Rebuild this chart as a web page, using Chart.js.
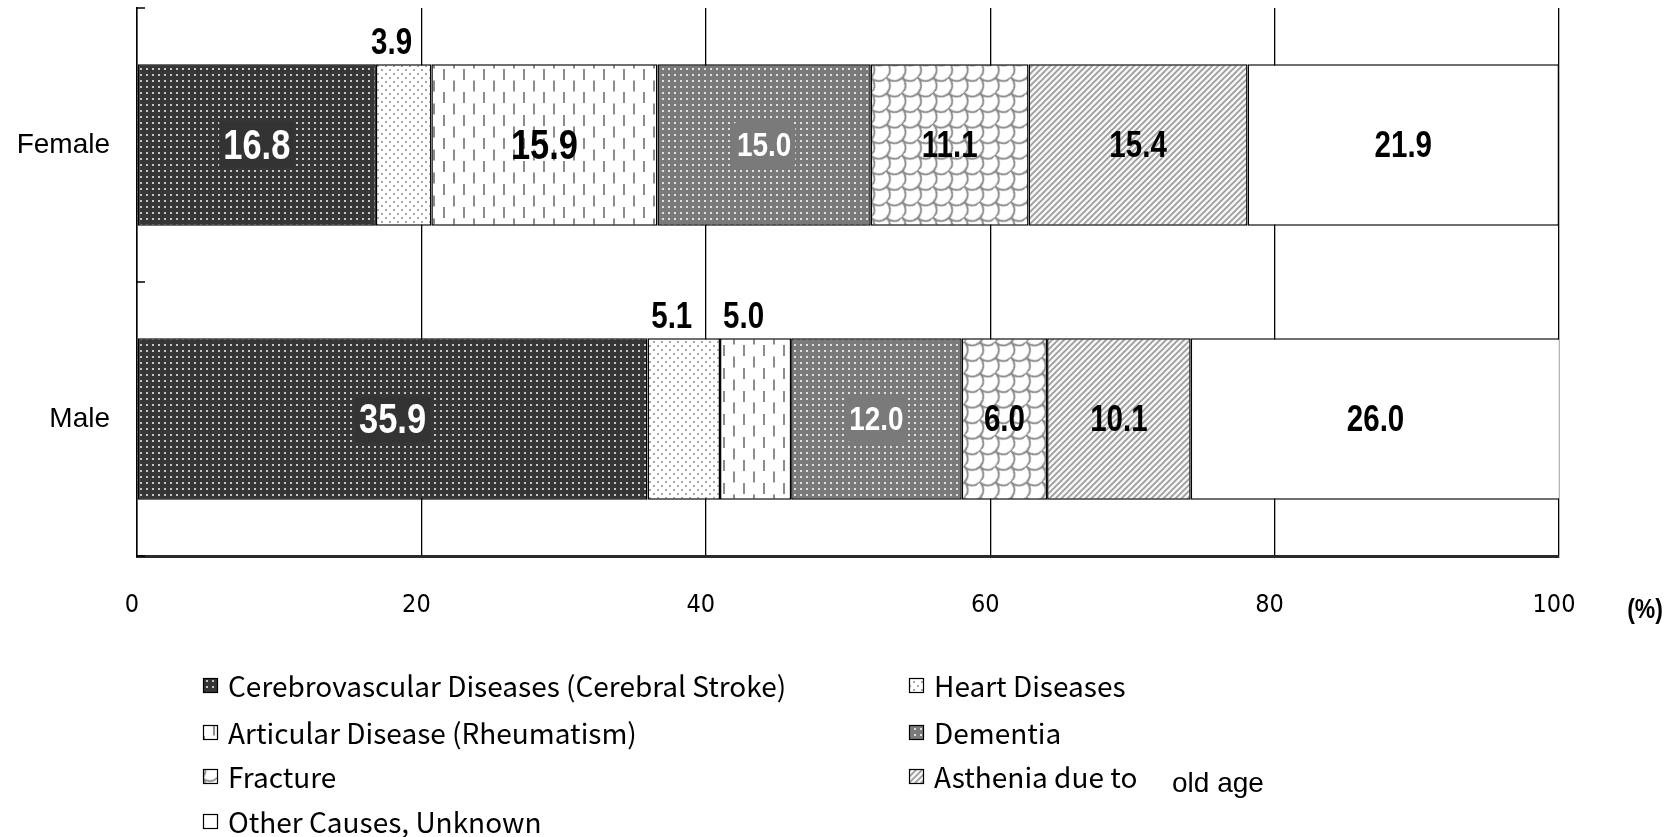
<!DOCTYPE html>
<html><head><meta charset="utf-8">
<script src="https://cdn.jsdelivr.net/npm/chart.js@4.4.1/dist/chart.umd.min.js"></script>
<style>html,body{margin:0;padding:0;background:#fff;}#wrap{width:1677px;height:837px;position:relative;}</style>
</head><body><div id="wrap"><canvas id="c" width="1677" height="837"></canvas></div>
<script>
// ---- data ----
const categories = ['Female', 'Male'];
const causeNames = ['Cerebrovascular Diseases (Cerebral Stroke)', 'Heart Diseases', 'Articular Disease (Rheumatism)', 'Dementia', 'Fracture', 'Asthenia due to old age', 'Other Causes, Unknown'];
const cerebrovascular = [16.8, 35.9];
const heart = [3.9, 5.1];
const articular = [15.9, 5.0];
const dementia = [15.0, 12.0];
const fracture = [11.1, 6.0];
const asthenia = [15.4, 10.1];
const other = [21.9, 26.0];
const xTickValues = [0, 20, 40, 60, 80, 100];
const seriesValues = [cerebrovascular, heart, articular, dementia, fracture, asthenia, other];

// ---- patterns ----
function tile(w, h, draw, rot) {
  const c = document.createElement('canvas'); c.width = w; c.height = h;
  const g = c.getContext('2d'); draw(g, w, h);
  const p = document.getElementById('c').getContext('2d').createPattern(c, 'repeat');
  if (rot && p.setTransform) p.setTransform(new DOMMatrix().rotateSelf(rot));
  return p;
}
const patterns = [
  tile(6, 6, (g) => { g.fillStyle = '#363636'; g.fillRect(0, 0, 6, 6); g.fillStyle = '#c8c8c8'; g.fillRect(2, 2, 2, 2); }),
  tile(8, 8, (g) => { g.fillStyle = '#fff'; g.fillRect(0, 0, 8, 8); g.fillStyle = '#a6a6a6'; g.fillRect(1, 1, 2, 2); g.fillRect(5, 5, 2, 2); }),
  tile(20, 23, (g) => { g.fillStyle = '#fff'; g.fillRect(0, 0, 20, 23); g.fillStyle = '#8c8c8c'; g.fillRect(3, 0, 2, 11); g.fillRect(13, 11.5, 2, 11); }),
  tile(6, 6, (g) => { g.fillStyle = '#7a7a7a'; g.fillRect(0, 0, 6, 6); g.fillStyle = '#e0e0e0'; g.fillRect(2, 2, 2, 2); }),
  tile(22, 22, (g) => { g.fillStyle = '#fff'; g.fillRect(0, 0, 22, 22); g.strokeStyle = '#8a8a8a'; g.lineWidth = 1.8;
    g.beginPath(); g.arc(11, 0, 11, 0, Math.PI); g.stroke();
    g.beginPath(); g.arc(0, 11, 11, 0, Math.PI); g.stroke();
    g.beginPath(); g.arc(22, 11, 11, 0, Math.PI); g.stroke();
    g.beginPath(); g.arc(11, 22, 11, 0, Math.PI); g.stroke();
  }, -45),
  tile(6, 6, (g) => { g.fillStyle = '#f6f6f6'; g.fillRect(0, 0, 6, 6); g.strokeStyle = '#9a9a9a'; g.lineWidth = 1.6;
    g.beginPath(); g.moveTo(-1, 7); g.lineTo(7, -1); g.moveTo(-4, 4); g.lineTo(4, -4); g.moveTo(2, 10); g.lineTo(10, 2); g.stroke(); }),
  '#ffffff'
];

const SANS = "'Liberation Sans', Arial, sans-serif";
const NARROW = "'DejaVu Sans Condensed', 'Liberation Sans', sans-serif";
const LEG = "'Noto Sans CJK JP', 'Noto Sans', sans-serif";

const datasets = causeNames.map((n, i) => ({
  label: n, data: seriesValues[i], backgroundColor: patterns[i],
  borderColor: '#000', borderWidth: 1.5, borderSkipped: false,
  barPercentage: 0.59, categoryPercentage: 1
}));

// label styles per series
const labelStyle = [
  { color: '#fff', size: 42, box: '#333333', r: 0 },
  { color: '#000', size: 36 },
  { color: '#000', size: 42 },
  { color: '#fff', size: 34, box: '#7a7a7a', r: 5 },
  { color: '#000', size: 36 },
  { color: '#000', size: 36 },
  { color: '#000', size: 36 }
];
const SQUEEZE = 0.82;

function narrowText(ctx, txt, x, y) {
  ctx.save(); ctx.translate(x, y); ctx.scale(SQUEEZE, 1); ctx.fillText(txt, 0, 0); ctx.restore();
}

const valuePlugin = {
  id: 'vals',
  afterDatasetsDraw(chart) {
    const ctx = chart.ctx;
    ctx.save();
    chart.data.datasets.forEach((ds, i) => {
      const meta = chart.getDatasetMeta(i);
      meta.data.forEach((el, j) => {
        const v = ds.data[j];
        const txt = v.toFixed(1);
        const w = Math.abs(el.x - el.base);
        const cx = (el.x + el.base) / 2;
        const st = labelStyle[i];
        ctx.textAlign = 'center'; ctx.textBaseline = 'middle';
        if (w < 80) {
          ctx.font = 'bold 36px ' + SANS;
          ctx.fillStyle = '#000';
          narrowText(ctx, txt, cx - 12, el.y - el.height / 2 - 20);
          return;
        }
        ctx.font = 'bold ' + st.size + 'px ' + SANS;
        if (st.box) {
          const tw = ctx.measureText(txt).width * SQUEEZE;
          const bw = tw + 8, bh = 46;
          ctx.fillStyle = st.box;
          ctx.beginPath();
          if (ctx.roundRect) ctx.roundRect(cx - bw / 2, el.y - bh / 2, bw, bh, st.r); else ctx.rect(cx - bw / 2, el.y - bh / 2, bw, bh);
          ctx.fill();
        }
        ctx.fillStyle = st.color;
        narrowText(ctx, txt, cx, el.y + 2);
      });
    });
    ctx.restore();
  }
};

const extrasPlugin = {
  id: 'extras',
  afterDraw(chart) {
    const ctx = chart.ctx, a = chart.chartArea;
    ctx.save();
    // inward y ticks at category boundaries
    ctx.strokeStyle = '#000'; ctx.lineWidth = 1.5;
    const n = categories.length;
    for (let k = 0; k <= n; k++) {
      const y = a.top + (a.bottom - a.top) * k / n;
      ctx.beginPath(); ctx.moveTo(a.left, y); ctx.lineTo(a.left + 8, y); ctx.stroke();
    }
    // unit label
    ctx.fillStyle = '#000'; ctx.textAlign = 'center'; ctx.textBaseline = 'middle';
    ctx.font = 'bold 28px ' + SANS;
    narrowText(ctx, '(%)', a.right + 86, a.bottom + 54);
    // legend
    const leftX = 203, rightX = 909, rowY = [686, 733, 777, 822];
    const order = [[0, leftX, 0], [2, leftX, 1], [4, leftX, 2], [6, leftX, 3], [1, rightX, 0], [3, rightX, 1], [5, rightX, 2]];
    order.forEach(([i, x, r]) => {
      const y = rowY[r];
      ctx.fillStyle = patterns[i];
      ctx.fillRect(x, y - 8, 15, 15);
      ctx.strokeStyle = '#000'; ctx.lineWidth = 1.2;
      ctx.strokeRect(x + 0.5, y - 7.5, 14, 14);
      ctx.fillStyle = '#000'; ctx.textAlign = 'left'; ctx.textBaseline = 'middle';
      ctx.font = '28px ' + LEG;
      if (i === 5) {
        ctx.fillText('Asthenia due to', x + 25, y);
        ctx.font = '28px ' + SANS;
        ctx.fillText('old age', 1172, y + 7);
      } else {
        ctx.fillText(causeNames[i], x + 25, y);
      }
    });
    ctx.restore();
  }
};

Chart.defaults.font.family = SANS;
Chart.defaults.color = '#000';

new Chart(document.getElementById('c'), {
  type: 'bar',
  data: { labels: categories, datasets },
  options: {
    indexAxis: 'y',
    responsive: false,
    animation: false,
    layout: { autoPadding: false, padding: { left: 0, right: 118, top: 8, bottom: 0 } },
    plugins: { legend: { display: false }, tooltip: { enabled: false } },
    scales: {
      x: {
        stacked: true, min: 0, max: 100,
        afterBuildTicks(scale) { scale.ticks = xTickValues.map(v => ({ value: v })); },
        afterFit(scale) { scale.height = 281; scale.paddingLeft = 0; scale.paddingRight = 0; },
        grid: { color: '#000', lineWidth: 1.3, drawTicks: false },
        border: { display: true, color: '#2a2a2a', width: 3 },
        ticks: { padding: 34, labelOffset: -5, font: { size: 25, family: NARROW }, color: '#000' }
      },
      y: {
        stacked: true,
        afterFit(scale) { scale.width = 137; scale.paddingTop = 0; scale.paddingBottom = 0; },
        grid: { display: false, drawTicks: false },
        border: { display: true, color: '#000', width: 1.5 },
        ticks: { padding: 27, font: { size: 28, family: SANS }, color: '#000' }
      }
    }
  },
  plugins: [valuePlugin, extrasPlugin]
});
</script></body></html>
